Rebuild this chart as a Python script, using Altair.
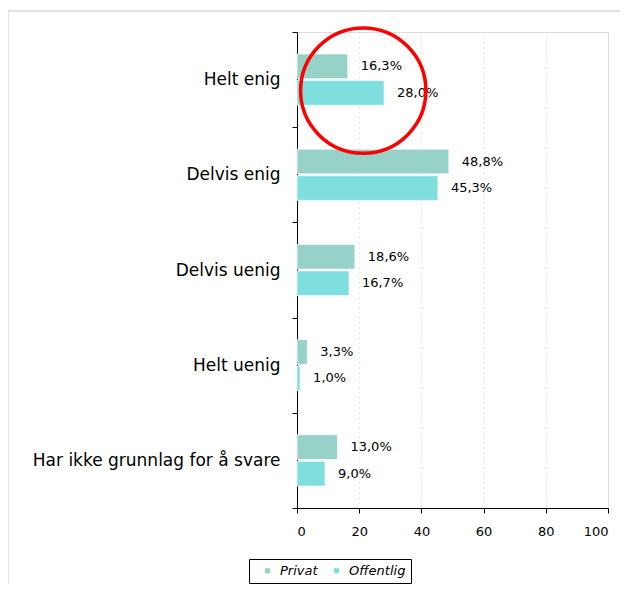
import altair as alt
import pandas as pd

categories = ["Helt enig", "Delvis enig", "Delvis uenig", "Helt uenig", "Har ikke grunnlag for å svare"]
series = ["Privat", "Offentlig"]
privat = [16.3, 48.8, 18.6, 3.3, 13.0]
offentlig = [28.0, 45.3, 16.7, 1.0, 9.0]
colors = ["#96D2C7", "#7FDFDF"]
x_ticks = [0, 20, 40, 60, 80, 100]

rows = []
for c, p, o in zip(categories, privat, offentlig):
    rows.append({"cat": c, "serie": "Privat", "val": p, "lbl": f"{p:.1f}".replace(".", ",") + "%"})
    rows.append({"cat": c, "serie": "Offentlig", "val": o, "lbl": f"{o:.1f}".replace(".", ",") + "%"})
df = pd.DataFrame(rows)

highlight = pd.DataFrame({"cat": ["Helt enig"], "val": [21.3]})

FONT = "DejaVu Sans"

y_enc = alt.Y("cat:N", sort=categories, title=None,
              scale=alt.Scale(paddingInner=0, paddingOuter=0),
              axis=alt.Axis(labelFontSize=17, labelColor="black", labelFont=FONT,
                            tickBand="extent", tickColor="black", tickSize=5,
                            domainColor="black", labelPadding=12, labelLimit=400))
x_enc = alt.X("val:Q", title=None,
              scale=alt.Scale(domain=[0, 100], nice=False),
              axis=alt.Axis(values=x_ticks, labelFontSize=13, labelColor="black", labelFont=FONT,
                            tickColor="black", tickSize=5, domainColor="black",
                            labelPadding=12, grid=True, gridColor="#D0D0D0",
                            gridDash=[1, 4], gridWidth=1))
yoff = alt.YOffset("serie:N", sort=series, scale=alt.Scale(paddingInner=0.07, paddingOuter=0.83))

bars = alt.Chart(df).mark_bar(stroke="white", strokeWidth=0.6).encode(
    y=y_enc, x=x_enc, yOffset=yoff,
    color=alt.Color("serie:N", sort=series,
                    scale=alt.Scale(domain=series, range=colors),
                    legend=alt.Legend(title=None, orient="none", legendX=-48, legendY=527,
                                      direction="horizontal", symbolType="square",
                                      symbolSize=25, symbolStrokeWidth=0,
                                      labelFontSize=13, labelFontStyle="italic",
                                      labelFont=FONT, labelColor="black", labelOffset=6,
                                      strokeColor="black", padding=5, columnPadding=5,
                                      symbolOffset=7, fillColor="white")),
)

labels = alt.Chart(df).mark_text(align="left", baseline="middle", dx=13,
                                 fontSize=13, font=FONT, color="black").encode(
    y=alt.Y("cat:N", sort=categories), x="val:Q", yOffset=yoff, text="lbl:N")

ring = alt.Chart(highlight).mark_point(shape="circle", size=15700, filled=False,
                                       color="#FF0000", strokeWidth=3.5, yOffset=11,
                                       opacity=1).encode(
    y=alt.Y("cat:N", sort=categories), x="val:Q")

frame = alt.Chart(highlight).mark_rect(fill=None, stroke="#D9D9D9", strokeWidth=1.5).encode(
    x=alt.value(-289), x2=alt.value(340), y=alt.value(-21), y2=alt.value(570))

chart = alt.layer(frame, bars, labels, ring).properties(
    width=311, height=476,
    autosize=alt.AutoSizeParams(type="none"),
    padding={"left": 289, "top": 24, "right": 12, "bottom": 76},
).configure_view(stroke="black", strokeWidth=1.2).configure(background="white")

chart.save("out.html", embed_options={"renderer": "svg", "actions": False})
